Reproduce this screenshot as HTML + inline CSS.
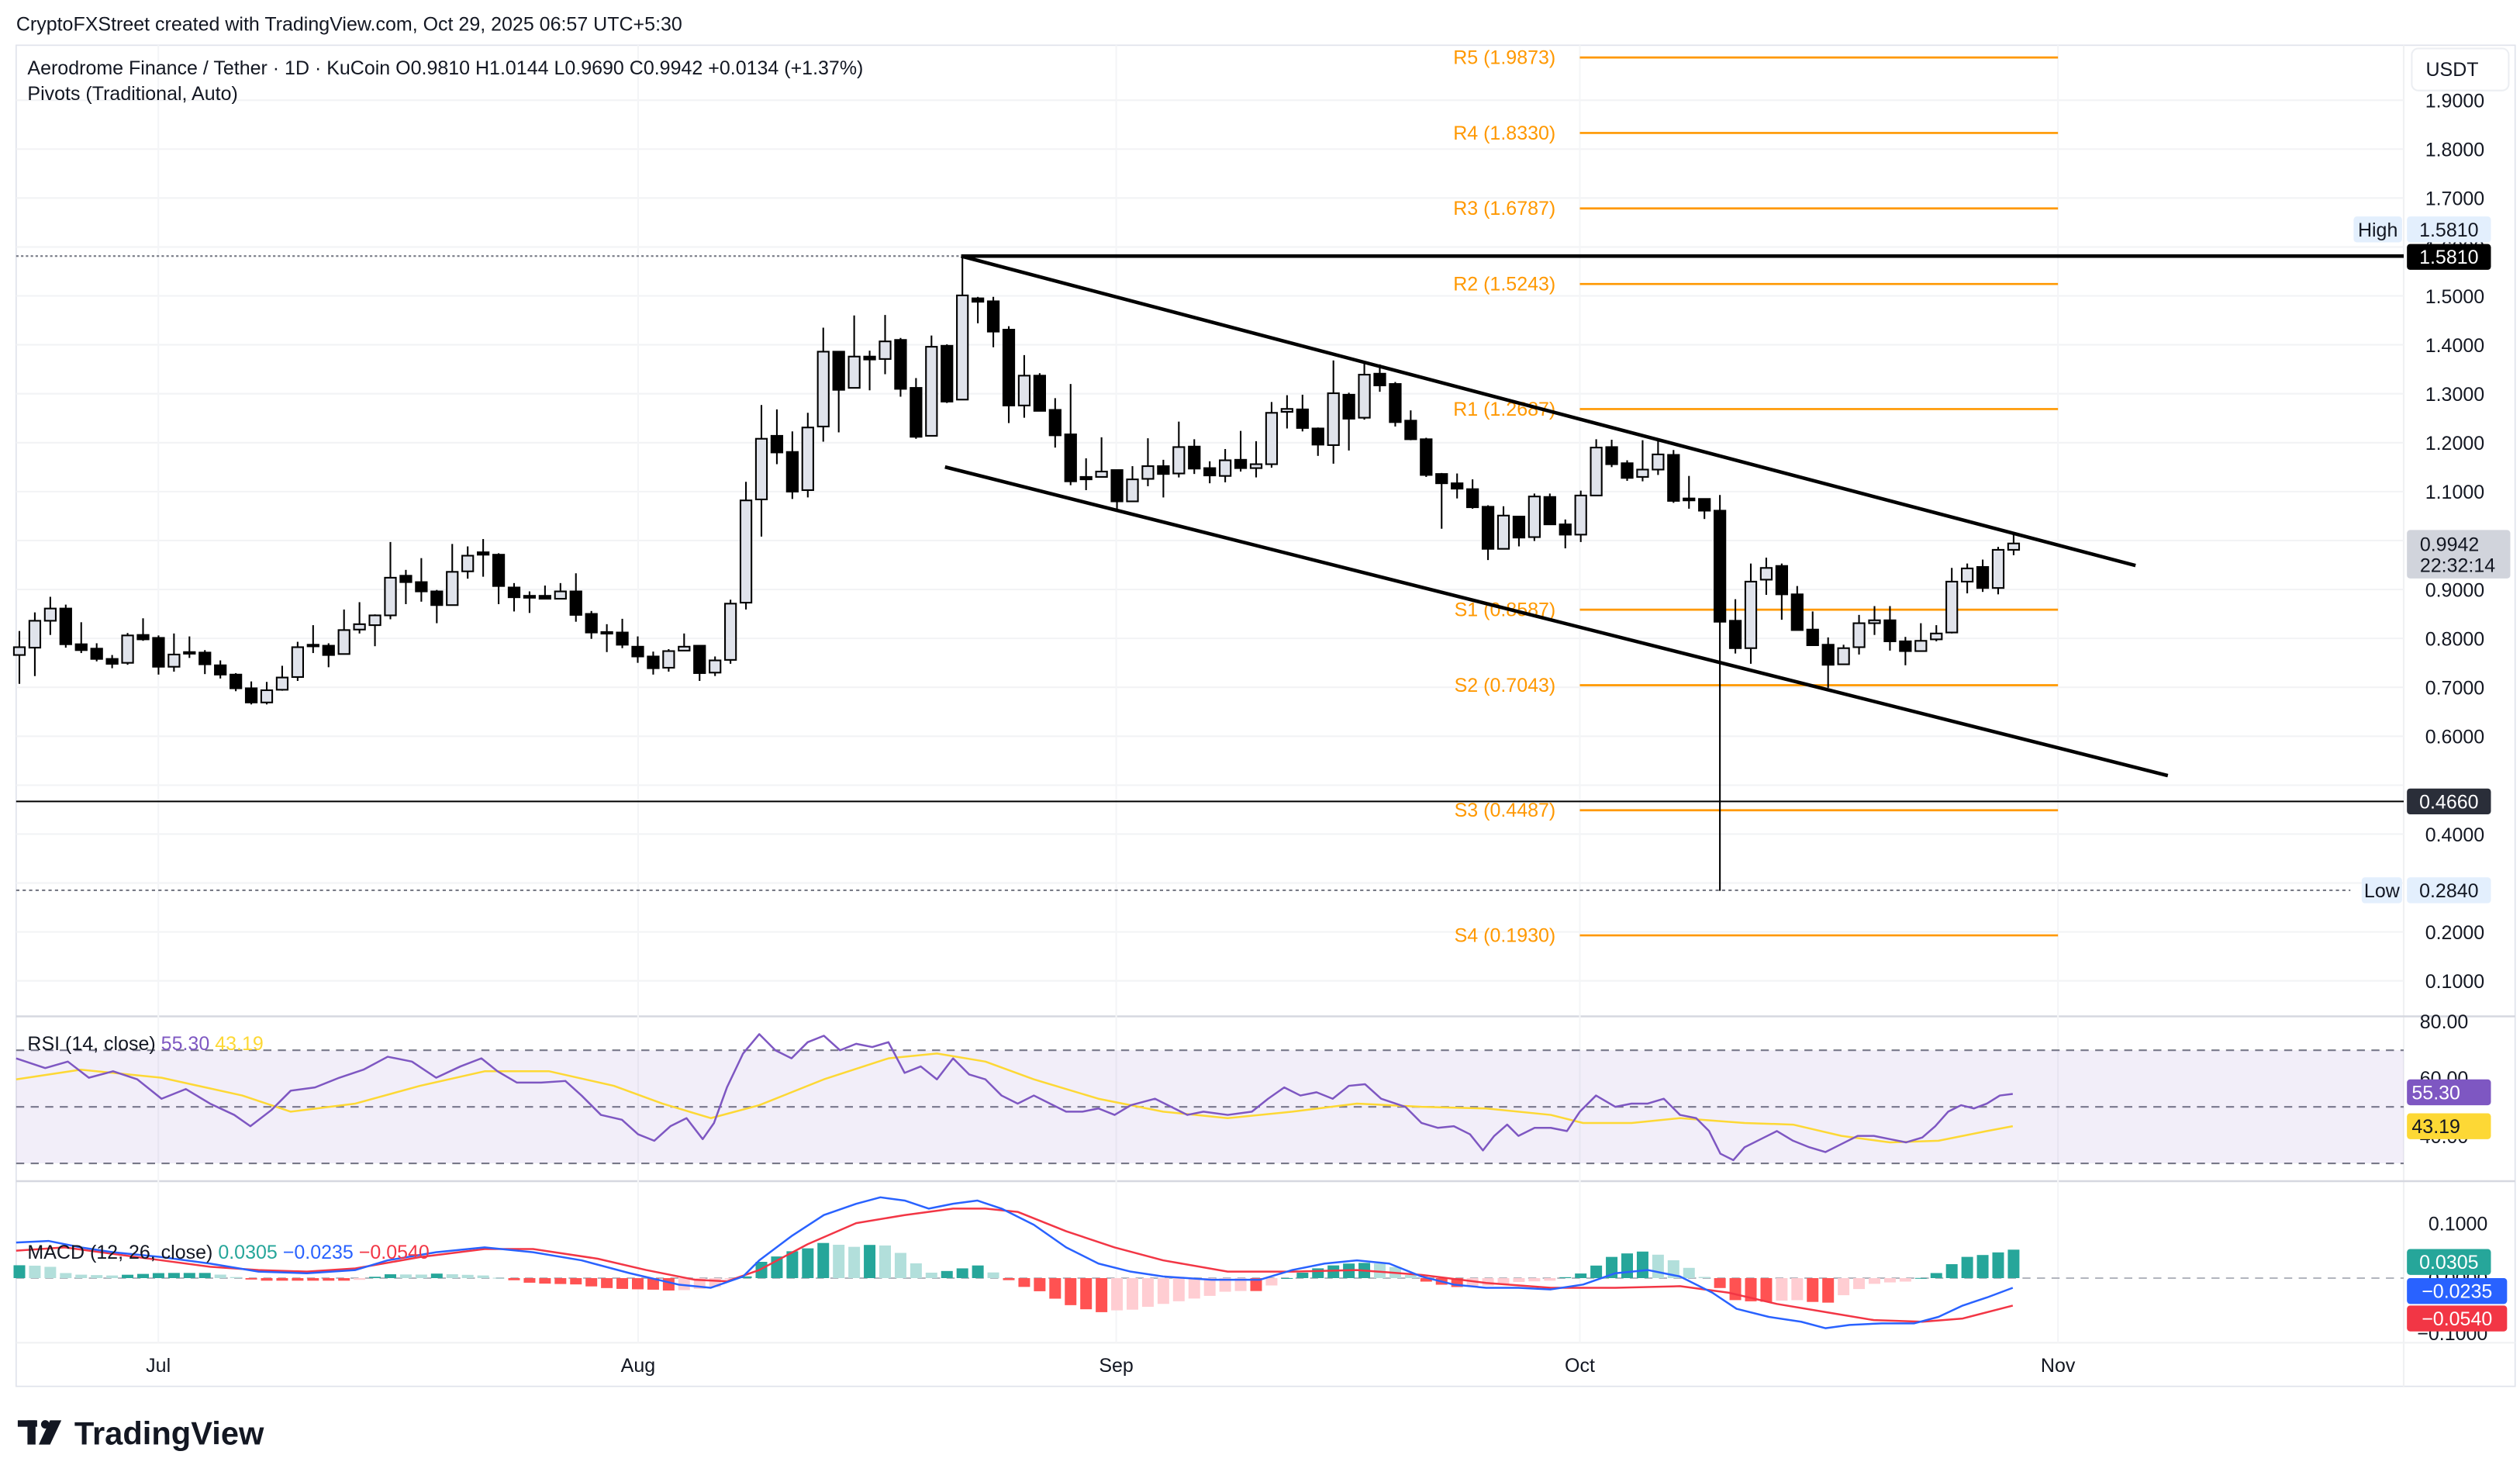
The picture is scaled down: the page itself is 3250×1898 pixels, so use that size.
<!DOCTYPE html>
<html><head><meta charset="utf-8"><style>
html,body{margin:0;padding:0;background:#fff;}
svg{display:block;}
text{font-family:"Liberation Sans",sans-serif;}
</style></head><body>
<svg id="s" xmlns="http://www.w3.org/2000/svg" width="3250" height="1898" viewBox="0 0 1560 911" preserveAspectRatio="none">
<rect width="1560" height="911" fill="#fff"/>
<g id="grid"></g>
<rect x="10" y="650" width="1478" height="70" fill="#7e57c2" fill-opacity="0.1"/>
<g id="main"></g>
<text x="10" y="19" font-size="12" fill="#131722">CryptoFXStreet created with TradingView.com, Oct 29, 2025 06:57 UTC+5:30</text>
<text x="17" y="46" font-size="12" fill="#131722">Aerodrome Finance / Tether · 1D · KuCoin  O0.9810  H1.0144  L0.9690  C0.9942  +0.0134 (+1.37%)</text>
<text x="17" y="62" font-size="12" fill="#131722">Pivots (Traditional, Auto)</text>
<text x="17" y="650" font-size="12" fill="#131722">RSI (14, close) <tspan fill="#7e57c2">55.30</tspan> <tspan fill="#fdd835">43.19</tspan></text>
<text x="17" y="779" font-size="12" fill="#131722">MACD (12, 26, close) <tspan fill="#26a69a">0.0305</tspan> <tspan fill="#2962ff">−0.0235</tspan> <tspan fill="#f23645">−0.0540</tspan></text>
<g fill="#131722">
<rect x="11" y="879" width="12" height="4"/><rect x="17" y="879" width="5" height="15"/>
<circle cx="28" cy="881.5" r="2.6"/><polygon points="31,879 38,879 31,894 24,894"/>
</g>
<text x="46" y="894" font-size="20" font-weight="bold" fill="#131722">TradingView</text>
</svg>
<script>
const NS="http://www.w3.org/2000/svg";
function el(p,t,a,txt){const e=document.createElementNS(NS,t);for(const k in a)e.setAttribute(k,a[k]);if(txt!==undefined)e.textContent=txt;p.appendChild(e);return e;}
const G=document.getElementById('grid'),M=document.getElementById('main');
const Y=p=>62+(1.9-p)*302.8;
const X=i=>12+i*9.57;
el(G,'rect',{x:10,y:28,width:1547,height:830,fill:'none',stroke:'#e0e3eb','stroke-width':0.8});
el(G,'line',{x1:1488,y1:28,x2:1488,y2:858,stroke:'#f0f1f3','stroke-width':1});
el(G,'line',{x1:10,y1:629,x2:1557,y2:629,stroke:'#d6d8e0','stroke-width':1.2});
el(G,'line',{x1:10,y1:731,x2:1557,y2:731,stroke:'#d6d8e0','stroke-width':1.2});
el(G,'line',{x1:10,y1:831,x2:1557,y2:831,stroke:'#f0f1f3','stroke-width':1});
for(let k=1;k<=19;k++){const p=k/10,y=Y(p);if(y<40)continue;
 el(G,'line',{x1:10,y1:y,x2:1488,y2:y,stroke:'#f2f3f5','stroke-width':1});
 if(![0.5,0.3].includes(Math.round(p*10)/10))el(G,'text',{x:1538,y:y+4.5,'font-size':12,fill:'#131722','text-anchor':'end'},p.toFixed(4));}
[[98,'Jul'],[395,'Aug'],[691,'Sep'],[978,'Oct'],[1274,'Nov']].forEach(([x,t])=>{
 el(G,'line',{x1:x,y1:28,x2:x,y2:831,stroke:'#f4f5f7','stroke-width':1});
 el(G,'text',{x:x,y:849,'font-size':12,fill:'#131722','text-anchor':'middle'},t);});
[[632,'80.00'],[667,'60.00'],[703,'40.00']].forEach(([y,t])=>el(G,'text',{x:1528,y:y+4.5,'font-size':12,fill:'#131722','text-anchor':'end'},t));
[[757,'0.1000'],[791,'0.0000'],[825,'−0.1000']].forEach(([y,t])=>el(G,'text',{x:1540,y:y+4.5,'font-size':12,fill:'#131722','text-anchor':'end'},t));
[650,685,720].forEach(y=>el(G,'line',{x1:10,y1:y,x2:1488,y2:y,stroke:'#787b86','stroke-width':1,'stroke-dasharray':'5,4'}));
el(G,'line',{x1:10,y1:791,x2:1488,y2:791,stroke:'#b2b5be','stroke-width':1,'stroke-dasharray':'5,4'});
el(G,'rect',{x:1493,y:30,width:60,height:26,rx:4,fill:'#fff',stroke:'#eceef2'});
el(G,'text',{x:1518,y:47,'font-size':12,fill:'#131722','text-anchor':'middle'},'USDT');

const piv=[['R5',1.9873],['R4',1.8330],['R3',1.6787],['R2',1.5243],['R1',1.2687],['S1',0.8587],['S2',0.7043],['S3',0.4487],['S4',0.1930]];
piv.forEach(([n,v])=>{const y=Y(v);el(M,'line',{x1:978,y1:y,x2:1274,y2:y,stroke:'#ff9800','stroke-width':1.3});
 el(M,'text',{x:963,y:y+4,'font-size':12,fill:'#ff9800','text-anchor':'end'},n+' ('+v.toFixed(4)+')');});
el(M,'line',{x1:10,y1:158.5,x2:595,y2:158.5,stroke:'#787b86','stroke-width':1,'stroke-dasharray':'1.5,1.5'});
el(M,'line',{x1:595,y1:158.5,x2:1488,y2:158.5,stroke:'#000','stroke-width':2.2});
el(M,'line',{x1:10,y1:496,x2:1488,y2:496,stroke:'#000','stroke-width':1});
el(M,'line',{x1:10,y1:551,x2:1455,y2:551,stroke:'#787b86','stroke-width':1,'stroke-dasharray':'2,2'});
const C=[[.766,.815,.707,.782],[.781,.853,.723,.836],[.836,.885,.807,.861],[.861,.869,.781,.788],[.788,.833,.770,.776],[.779,.790,.753,.758],[.758,.766,.739,.748],[.750,.811,.746,.806],[.807,.841,.795,.798],[.801,.806,.726,.742],
[.742,.810,.732,.767],[.770,.804,.760,.772],[.771,.776,.727,.747],[.745,.755,.718,.726],[.726,.729,.692,.698],[.698,.712,.665,.669],[.669,.711,.665,.694],[.695,.744,.693,.720],[.721,.793,.713,.782],[.786,.827,.770,.787],
[.785,.790,.741,.766],[.768,.859,.768,.817],[.818,.874,.810,.829],[.827,.849,.784,.847],[.847,.997,.839,.924],[.928,.940,.870,.915],[.915,.964,.875,.896],[.896,.899,.831,.868],[.868,.993,.867,.936],[.937,.988,.922,.969],
[.976,1.003,.926,.971],[.971,.974,.870,.907],[.904,.913,.855,.884],[.887,.896,.852,.883],[.887,.908,.881,.881],[.881,.913,.881,.896],[.896,.933,.834,.848],[.850,.856,.799,.812],[.813,.829,.772,.812],[.812,.840,.780,.787],
[.783,.804,.750,.763],[.763,.773,.726,.739],[.740,.778,.732,.774],[.775,.810,.774,.783],[.785,.785,.713,.729],[.730,.763,.723,.755],[.756,.879,.748,.871],[.873,1.120,.859,1.082],[1.084,1.277,1.008,1.208],[1.214,1.268,1.156,1.180],
[1.181,1.223,1.085,1.100],[1.103,1.261,1.088,1.231],[1.233,1.435,1.202,1.386],[1.386,1.386,1.221,1.308],[1.312,1.460,1.312,1.376],[1.376,1.388,1.307,1.370],[1.371,1.461,1.340,1.407],[1.410,1.414,1.294,1.310],[1.312,1.332,1.208,1.212],[1.214,1.419,1.214,1.396],
[1.398,1.401,1.281,1.284],[1.288,1.581,1.287,1.501],[1.495,1.498,1.444,1.488],[1.489,1.498,1.395,1.427],[1.431,1.438,1.240,1.276],[1.276,1.379,1.251,1.337],[1.337,1.342,1.264,1.265],[1.267,1.291,1.190,1.215],[1.217,1.320,1.113,1.121],[1.130,1.168,1.103,1.125],
[1.130,1.211,1.130,1.141],[1.144,1.144,1.059,1.080],[1.080,1.152,1.079,1.125],[1.126,1.209,1.111,1.152],[1.152,1.165,1.088,1.136],[1.137,1.243,1.129,1.191],[1.192,1.207,1.136,1.147],[1.148,1.162,1.117,1.133],[1.132,1.187,1.119,1.164],[1.165,1.224,1.141,1.148],
[1.148,1.203,1.129,1.156],[1.156,1.283,1.149,1.261],[1.263,1.297,1.229,1.269],[1.268,1.298,1.223,1.230],[1.229,1.231,1.173,1.196],[1.195,1.368,1.157,1.301],[1.298,1.302,1.184,1.249],[1.251,1.366,1.247,1.339],[1.341,1.360,1.304,1.317],[1.320,1.324,1.233,1.242],
[1.245,1.266,1.205,1.207],[1.207,1.210,1.130,1.134],[1.136,1.138,1.024,1.117],[1.117,1.137,1.086,1.106],[1.105,1.125,1.065,1.068],[1.069,1.072,.960,.983],[.983,1.070,.983,1.051],[1.049,1.049,.988,1.006],[1.007,1.096,.999,1.090],[1.089,1.096,1.033,1.033],
[1.033,1.043,.984,1.012],[1.012,1.102,.997,1.092],[1.092,1.207,1.092,1.190],[1.191,1.206,1.150,1.156],[1.158,1.164,1.122,1.128],[1.130,1.205,1.121,1.145],[1.145,1.207,1.134,1.176],[1.175,1.185,1.077,1.081],[1.086,1.132,1.065,1.082],[1.085,1.086,1.044,1.061],
[1.061,1.093,.284,.834],[.836,.880,.769,.780],[.780,.953,.748,.916],[.920,.965,.889,.944],[.948,.953,.838,.890],[.890,.907,.817,.817],[.818,.855,.785,.786],[.787,.802,.699,.746],[.747,.787,.747,.780],[.782,.848,.767,.831],
[.831,.866,.807,.837],[.837,.866,.775,.794],[.794,.803,.745,.774],[.774,.831,.774,.795],[.798,.827,.794,.810],[.812,.944,.810,.916],[.916,.953,.892,.943],[.946,.961,.895,.903],[.903,.987,.890,.981],[.981,1.012,.970,.994]];
C.forEach(([o,h,l,c],i)=>{const x=X(i);const up=c>=o;
 el(M,'line',{x1:x,y1:Y(h),x2:x,y2:Y(l),stroke:'#000','stroke-width':1});
 const t=Y(Math.max(o,c)),b=Y(Math.min(o,c));
 el(M,'rect',{x:x-3.4,y:t,width:6.8,height:Math.max(b-t,1),fill:up?'#e0e3eb':'#000',stroke:'#000','stroke-width':1});});
el(M,'line',{x1:595,y1:158.5,x2:1322,y2:350,stroke:'#000','stroke-width':2.2});
el(M,'line',{x1:585,y1:289,x2:1342,y2:480,stroke:'#000','stroke-width':2.2});
function pl(pts,col,w){el(M,'polyline',{points:pts.map(p=>p.join(',')).join(' '),fill:'none',stroke:col,'stroke-width':w,'stroke-linejoin':'round'});}
const rsi=[[10,655],[28,661],[42,657],[55,667],[70,663],[85,668],[100,680],[115,674],[130,683],[145,690],[155,697],[168,687],[180,675],[195,673],[210,667],[225,662],[240,654],[255,657],[270,667],[285,660],[298,655],[308,663],[320,670],[335,670],[350,669],[360,678],[372,690],[385,693],[395,702],[405,706],[415,697],[425,692],[435,705],[442,695],[450,673],[460,652],[470,640],[480,650],[490,655],[500,645],[510,641],[520,650],[530,646],[540,648],[550,645],[560,664],[570,660],[580,668],[590,655],[600,665],[610,668],[620,678],[630,683],[640,678],[650,683],[660,688],[670,688],[680,686],[690,690],[700,684],[715,680],[725,685],[735,690],[745,688],[760,690],[775,688],[785,680],[795,673],[805,678],[815,676],[825,680],[835,672],[845,671],[855,680],[870,685],[880,695],[890,698],[900,697],[910,702],[918,712],[925,703],[933,696],[940,703],[950,698],[960,698],[970,700],[978,688],[988,678],[1000,685],[1010,683],[1020,683],[1030,680],[1040,690],[1050,692],[1058,700],[1065,714],[1073,718],[1080,710],[1090,705],[1100,700],[1110,706],[1120,710],[1130,713],[1140,708],[1150,703],[1160,703],[1170,705],[1180,707],[1190,704],[1198,697],[1206,688],[1214,684],[1222,686],[1230,683],[1238,678],[1246,677]];
const rma=[[10,668],[50,662],[100,667],[150,678],[180,688],[220,683],[260,672],[300,663],[340,663],[380,672],[410,683],[440,692],[470,684],[510,668],[550,655],[580,652],[610,657],[640,668],[680,680],[720,688],[760,692],[800,688],[840,683],[880,685],[920,686],[960,690],[980,695],[1010,695],[1040,692],[1080,695],[1110,696],[1140,703],[1170,707],[1200,706],[1230,700],[1246,697]];
pl(rma,'#fdd835',1.2);pl(rsi,'#7e57c2',1.2);
const mb=[[10,769],[30,768],[50,772],[70,775],[100,778],[130,782],[160,787],[190,788],[220,786],[240,780],[270,775],[300,772],[330,775],[360,780],[390,788],[420,795],[440,797],[460,790],[470,780],[490,765],[510,752],[530,745],[545,741],[560,743],[575,748],[590,745],[605,743],[620,748],[640,758],[660,772],[680,782],[700,787],[720,790],[750,792],[780,792],[800,786],[820,782],[840,780],[860,782],[880,790],[900,795],[920,797],[940,797],[960,798],[980,795],[1000,788],[1020,786],[1040,790],[1060,800],[1075,810],[1095,815],[1115,818],[1130,822],[1145,820],[1165,819],[1185,819],[1200,815],[1215,808],[1230,803],[1246,797]];
const mr=[[10,774],[40,772],[70,776],[100,780],[130,784],[160,786],[190,787],[220,785],[260,778],[300,773],[330,773],[370,779],[400,786],[430,792],[450,793],[470,786],[500,770],[530,757],[560,752],[590,748],[610,748],[630,750],[660,762],[690,772],[720,780],[760,787],[800,787],[840,786],[880,789],[920,794],[960,797],[1000,797],[1040,796],[1070,800],[1100,807],[1130,812],[1160,817],[1190,818],[1215,816],[1246,808]];
function interp(a,x){if(x<=a[0][0])return a[0][1];for(let i=1;i<a.length;i++){if(x<=a[i][0]){const t=(x-a[i-1][0])/(a[i][0]-a[i-1][0]);return a[i-1][1]+t*(a[i][1]-a[i-1][1]);}}return a[a.length-1][1];}
let prev=null;
for(let i=0;i<130;i++){const x=X(i);const h=(interp(mr,x)-interp(mb,x))*1.6;
 let col;if(h>=0)col=(prev===null||h>=prev)?'#26a69a':'#b2dfdb';else col=(prev===null||h<=prev)?'#ff5252':'#ffcdd2';
 prev=h;const y=h>=0?791-h:791;el(M,'rect',{x:x-3.6,y:y,width:7.2,height:Math.max(Math.abs(h),0.5),fill:col});}
pl(mr,'#f23645',1.2);pl(mb,'#2962ff',1.2);
function lab(x,y,w,h,bg,txt,fg,tx){el(M,'rect',{x:x,y:y,width:w,height:h,rx:2,fill:bg});el(M,'text',{x:tx||x+w/2,y:y+h/2+4.3,'font-size':12,fill:fg,'text-anchor':'middle'},txt);}
lab(1457,134,30,16,'#e3effd','High','#131722');lab(1490,134,52,16,'#e3effd','1.5810','#131722');
lab(1490,151,52,16,'#000','1.5810','#fff');
lab(1490,488,52,16,'#2a2e39','0.4660','#fff');
lab(1462,543,25,16,'#e3effd','Low','#131722');lab(1490,543,52,16,'#e3effd','0.2840','#131722');
el(M,'rect',{x:1490,y:328,width:64,height:30,rx:2,fill:'#d1d4dc'});
el(M,'text',{x:1498,y:341,'font-size':12,fill:'#131722'},'0.9942');
el(M,'text',{x:1498,y:354,'font-size':12,fill:'#131722'},'22:32:14');
lab(1490,668,52,16,'#7e57c2','55.30','#fff',1508);
lab(1490,689,52,16,'#fdd835','43.19','#131722',1508);
lab(1490,773,52,16,'#26a69a','0.0305','#fff');
lab(1490,791,62,16,'#2962ff','−0.0235','#fff');
lab(1490,808,62,16,'#f23645','−0.0540','#fff');
</script>
</body></html>
